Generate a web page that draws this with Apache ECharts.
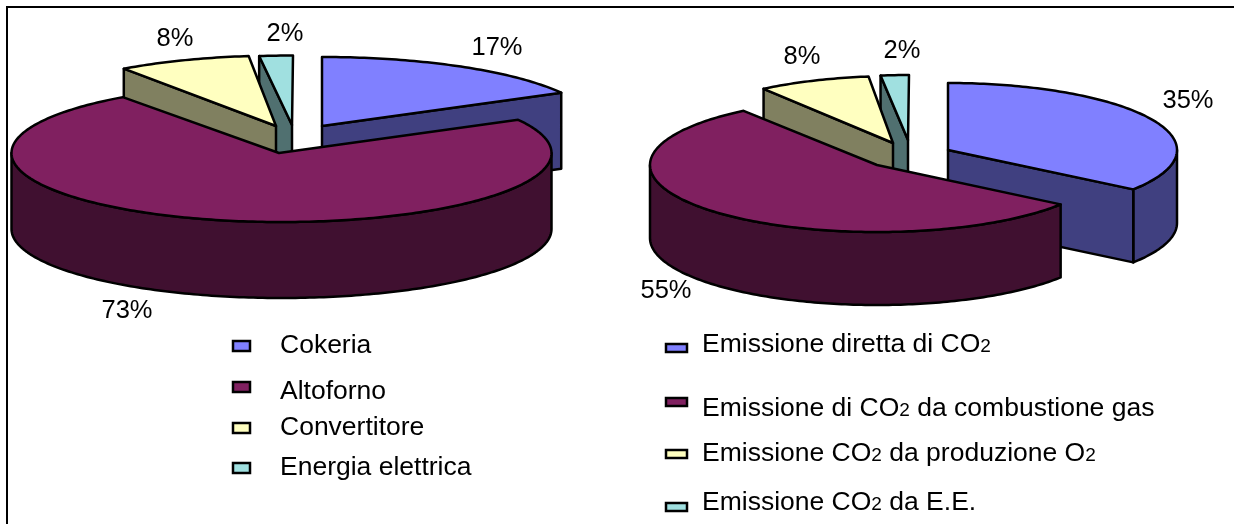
<!DOCTYPE html>
<html>
<head>
<meta charset="utf-8">
<style>html,body{margin:0;padding:0;background:#fff}#chart{width:1234px;height:524px}</style>
<script src="https://cdn.jsdelivr.net/npm/echarts@6/dist/echarts.min.js"></script>
</head>
<body>
<div id="chart"></div>
<script>
// Shares per process stage (left) and per emission source (right), in percent
const leftCategories = ['Cokeria', 'Altoforno', 'Convertitore', 'Energia elettrica'];
const leftValues = [17, 73, 8, 2];
const rightCategories = ['Emissione diretta di CO2', 'Emissione di CO2 da combustione gas', 'Emissione CO2 da produzione O2', 'Emissione CO2 da E.E.'];
const rightValues = [35, 55, 8, 2];

const topColors = ['#8080FF', '#802060', '#FFFFC0', '#A0E0E0'];
const wallColors = ['#404080', '#401030', '#808060', '#507070'];
const FONT = '"Liberation Sans", Arial, sans-serif';

// Placement of each exploded wedge: rim centre, apex, radius and label anchor.
const leftPie = {
  ry: 69, depth: 76,
  radii: [273, 270, 270, 270],
  centers: [[322, 126], [281.5, 153], [282.5, 124.5], [293, 124.5]],
  apexes: [[322, 126], [279, 153], [276, 126], [292, 125]],
  labels: [[497, 48], [127, 311], [175, 39], [285, 34]],
  drawOrder: [3, 2, 0, 1]
};
const rightPie = {
  ry: 67, depth: 73,
  radii: [229, 227, 227, 227],
  centers: [[948, 150], [877, 165], [897, 143], [909, 142]],
  apexes: [[948, 150], [877, 165], [893, 143], [908, 140]],
  labels: [[1188, 101], [666, 291], [802, 57], [902, 51]],
  drawOrder: [3, 2, 0, 1]
};
const leftLegendLayout = {
  swatch: [[232, 340], [232, 381], [232, 422], [232, 462]], swatchSize: [19, 12],
  textX: 280, textY: [345, 391, 427, 467]
};
const rightLegendLayout = {
  swatch: [[665, 343], [665, 397], [665, 449], [665, 502]], swatchSize: [23, 10],
  textX: 702, textY: [344, 408, 453, 502]
};

const LINE = 2.5;
const LABEL_SIZE = 25.5;
const LEGEND_SIZE = 26.5;
const DIGIT_SIZE = 19;
const toRad = d => d * Math.PI / 180;

// Point on the flattened rim at a clockwise angle measured from twelve o'clock.
function rim(c, rx, ry, deg, drop) {
  return [c[0] + rx * Math.sin(toRad(deg)), c[1] - ry * Math.cos(toRad(deg)) + (drop || 0)];
}
function arcPoints(c, rx, ry, from, to, drop) {
  const pts = [];
  const n = Math.max(2, Math.ceil(Math.abs(to - from)));
  for (let i = 0; i <= n; i++) pts.push(rim(c, rx, ry, from + (to - from) * i / n, drop));
  return pts;
}
function poly(points, fill) {
  return {
    type: 'polygon',
    shape: { points },
    style: { fill, stroke: '#000', lineWidth: LINE, lineJoin: 'round' }
  };
}

// One wedge of a tilted pie: cut walls facing the viewer, outer side, then top face.
function wedge(pie, values, index) {
  const total = values.reduce((a, b) => a + b, 0);
  const before = values.slice(0, index).reduce((a, b) => a + b, 0);
  const from = before / total * 360;
  const to = (before + values[index]) / total * 360;
  const c = pie.centers[index];
  const apex = pie.apexes[index];
  const rx = pie.radii[index], ry = pie.ry, d = pie.depth;
  const children = [];
  const wall = angle => {
    const r = rim(c, rx, ry, angle);
    children.push(poly([apex, r, [r[0], r[1] + d], [apex[0], apex[1] + d]], wallColors[index]));
  };
  const a = Math.max(from, 90), b = Math.min(to, 270);
  if (a < b) {
    children.push(poly(arcPoints(c, rx, ry, a, b).concat(arcPoints(c, rx, ry, b, a, d)), wallColors[index]));
  }
  if (Math.sin(toRad(from)) < -1e-6) wall(from);
  if (Math.sin(toRad(to)) > 1e-6) wall(to);
  children.push(poly([apex].concat(arcPoints(c, rx, ry, from, to)), topColors[index]));
  return children;
}

function pieSeries(pie, values, names) {
  return {
    type: 'custom',
    coordinateSystem: 'none',
    silent: true,
    animation: false,
    clip: false,
    data: pie.drawOrder.map(i => ({ name: names[i], value: [i, values[i]] })),
    renderItem: (params, api) => {
      const i = api.value(0);
      const children = wedge(pie, values, i);
      children.push({
        type: 'text',
        z2: 10,
        style: {
          x: pie.labels[i][0], y: pie.labels[i][1],
          text: api.value(1) + '%',
          font: LABEL_SIZE + 'px ' + FONT,
          fill: '#000', align: 'center', verticalAlign: 'middle'
        }
      });
      return { type: 'group', children };
    }
  };
}

const ctx = document.createElement('canvas').getContext('2d');
function measure(t, size) {
  ctx.font = size + 'px "Liberation Sans"';
  return ctx.measureText(t).width;
}

// Legend keys and names; the 2 of CO2 and O2 is set smaller on the same baseline.
function legendGraphics(names, layout) {
  const out = [];
  names.forEach((name, i) => {
    out.push({
      type: 'rect',
      shape: { x: layout.swatch[i][0] + 1, y: layout.swatch[i][1] + 1, width: layout.swatchSize[0] - 2, height: layout.swatchSize[1] - 2 },
      style: { fill: topColors[i], stroke: '#000', lineWidth: LINE }
    });
    let x = layout.textX;
    name.split(/(?<=O)(2)/).forEach(t => {
      if (!t) return;
      const small = t === '2';
      const size = small ? DIGIT_SIZE : LEGEND_SIZE;
      out.push({
        type: 'text',
        style: {
          x, y: layout.textY[i] - 13 + (small ? 6 : 0),
          text: t,
          font: size + 'px ' + FONT,
          fill: '#000', align: 'left', verticalAlign: 'top'
        }
      });
      x += measure(t, size);
    });
  });
  return out;
}

const frame = [
  { type: 'rect', shape: { x: 6, y: 6, width: 1228, height: 2 }, style: { fill: '#000' } },
  { type: 'rect', shape: { x: 6, y: 6, width: 2, height: 518 }, style: { fill: '#000' } }
];

const chart = echarts.init(document.getElementById('chart'), null, { renderer: 'canvas' });
chart.setOption({
  backgroundColor: '#fff',
  animation: false,
  series: [
    pieSeries(leftPie, leftValues, leftCategories),
    pieSeries(rightPie, rightValues, rightCategories)
  ],
  graphic: frame
    .concat(legendGraphics(leftCategories, leftLegendLayout))
    .concat(legendGraphics(rightCategories, rightLegendLayout))
});
</script>
</body>
</html>
